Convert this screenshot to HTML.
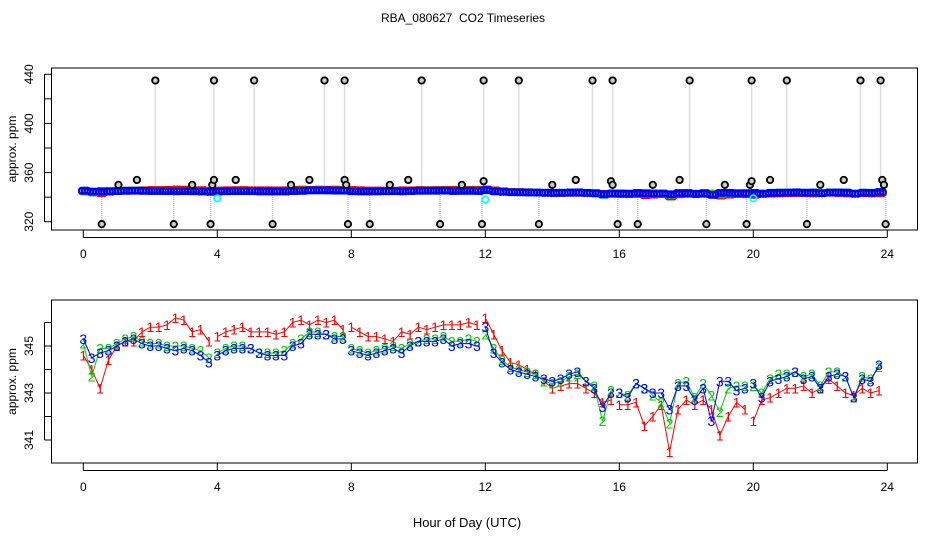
<!DOCTYPE html>
<html><head><meta charset="utf-8"><style>
body{margin:0;background:#fff}
svg{display:block;font-family:"Liberation Sans",sans-serif}
</style></head><body>
<svg id="chart" width="936" height="540" viewBox="0 0 936 540" xmlns="http://www.w3.org/2000/svg">
<rect width="936" height="540" fill="#fff"/>
<text x="463" y="22" font-size="12" text-anchor="middle" style="white-space:pre">RBA_080627  CO2 Timeseries</text>
<g id="topPanel"></g>
<g id="botPanel"></g>
<text x="467" y="527" font-size="13" text-anchor="middle">Hour of Day (UTC)</text>
</svg>
<script>
// ---- data ----
const hours = [0,0.25,0.5,0.75,1,1.25,1.5,1.75,2,2.25,2.5,2.75,3,3.25,3.5,3.75,4,4.25,4.5,4.75,5,5.25,5.5,5.75,6,6.25,6.5,6.75,7,7.25,7.5,7.75,8,8.25,8.5,8.75,9,9.25,9.5,9.75,10,10.25,10.5,10.75,11,11.25,11.5,11.75,12,12.25,12.5,12.75,13,13.25,13.5,13.75,14,14.25,14.5,14.75,15,15.25,15.5,15.75,16,16.25,16.5,16.75,17,17.25,17.5,17.75,18,18.25,18.5,18.75,19,19.25,19.5,19.75,20,20.25,20.5,20.75,21,21.25,21.5,21.75,22,22.25,22.5,22.75,23,23.25,23.5,23.75];
const series1 = [344.6,344.0,343.2,344.4,345.0,345.2,345.2,345.6,345.8,345.8,345.9,346.2,346.1,345.6,345.7,345.2,345.4,345.6,345.7,345.8,345.6,345.6,345.6,345.5,345.6,346.0,346.1,345.9,346.1,346.0,346.1,345.7,345.8,345.6,345.4,345.4,345.3,345.2,345.6,345.5,345.8,345.7,345.8,345.9,345.9,345.9,346.0,345.9,346.2,345.5,344.8,344.3,344.2,344.0,343.8,343.5,343.2,343.3,343.4,343.4,343.2,343.0,342.6,342.7,342.5,342.5,342.6,341.6,342.0,342.5,340.5,342.3,342.7,342.5,342.7,342.3,341.2,342.0,342.6,342.3,341.8,342.7,342.8,343.0,343.2,343.2,343.3,343.0,343.2,343.6,343.3,343.0,342.9,343.2,343.0,343.1];
const series2 = [345.1,343.7,344.9,344.9,345.1,345.3,345.4,345.2,345.1,345.1,345.0,345.0,345.0,344.9,344.8,344.5,344.7,344.9,345.0,345.0,344.9,344.7,344.7,344.7,344.8,345.1,345.3,345.6,345.6,345.5,345.4,345.4,344.9,344.8,344.7,344.8,344.9,345.0,344.9,345.1,345.2,345.3,345.3,345.4,345.2,345.2,345.3,345.2,345.5,344.9,344.4,344.1,344.0,343.9,343.8,343.5,343.4,343.5,343.7,343.8,343.5,343.3,341.8,343.1,343.0,342.9,343.4,343.2,342.9,342.6,341.7,343.4,343.5,342.8,343.4,342.9,342.2,343.2,343.3,343.3,343.3,343.0,343.6,343.8,343.8,343.9,343.7,343.8,343.3,343.9,343.9,343.7,342.8,343.7,343.6,344.1];
const series3 = [345.3,344.5,344.7,344.8,345.0,345.2,345.3,345.1,345.0,345.0,344.9,344.8,344.9,344.8,344.6,344.3,344.6,344.8,344.9,344.9,344.9,344.7,344.6,344.6,344.6,345.0,345.1,345.5,345.5,345.5,345.3,345.3,344.8,344.7,344.6,344.7,344.8,344.9,344.7,345.0,345.2,345.2,345.2,345.3,345.0,345.1,345.1,345.0,345.8,344.7,344.3,344.0,343.9,343.8,343.7,343.6,343.5,343.6,343.8,343.9,343.5,343.2,342.4,343.0,343.0,342.8,343.4,343.2,343.0,343.0,342.3,343.3,343.3,342.7,343.2,341.8,343.5,343.5,343.1,343.2,343.4,342.8,343.5,343.6,343.7,343.9,343.6,343.7,343.2,343.7,343.8,343.7,342.8,343.6,343.5,344.2];
const gapHours = [3.875,7.875,11.9,15.875,19.875];
const highOutlierHours = [2.15,3.9,5.1,7.2,7.8,10.1,11.95,13.0,15.2,15.8,18.1,19.95,21.0,23.2,23.8];
const lowOutlierHours = [0.55,2.7,3.8,5.65,7.9,8.55,10.65,11.9,13.6,15.95,16.55,18.6,19.8,21.6,23.95];
const highOutlierValue = 435;
const lowOutlierValue = 318;
const nearHours = [1.05,1.6,3.25,3.85,3.9,4.55,6.2,6.75,7.8,7.85,9.15,9.7,11.3,11.95,14.0,14.7,15.75,15.8,17.0,17.8,19.15,19.9,19.95,20.5,22.0,22.7,23.85,23.9];
const nearValues = [350,354,350,350,354,354,350,354,354,350,350,354,350,353,350,354,353,350,350,354,350,350,353,354,350,354,354,350];
const cyanHours = [4.0,12.0,20.0];
const cyanValues = [339,338,339];
const xTicks = [0,4,8,12,16,20,24];
const topYTicks = [320,340,360,380,400,420,440];
const topYLabels = [320,360,400,440];
const botYTicks = [341,342,343,344,345,346];
const botYLabels = [341,343,345];

const NS="http://www.w3.org/2000/svg";
function mk(parent,tag,attrs,name,text){const e=document.createElementNS(NS,tag);for(const k in attrs)e.setAttribute(k,attrs[k]);


if(text!==undefined)e.textContent=text;parent.appendChild(e);return e;}
const X=h=>83.3+h*33.5;
const yTop=v=>221.7-(v-320)*(147.4/120);
const yBot=v=>346-(v-345)*23.5;
function isGap(a,b){return gapHours.some(g=>a<g&&b>g);}

function frame(g,y0,y1,yt,yl,yfn){
  mk(g,'rect',{x:51.5,y:y0,width:866,height:y1-y0,fill:'none',stroke:'#000','stroke-width':1},'plot-box');
  mk(g,'line',{x1:X(0),x2:X(24),y1:y1+7.5,y2:y1+7.5,stroke:'#000'},'x-axis-line');
  xTicks.forEach(t=>{mk(g,'line',{x1:X(t),x2:X(t),y1:y1,y2:y1+7.5,stroke:'#000'},'x-tick');
    mk(g,'text',{x:X(t),y:y1+28,'font-size':12,'text-anchor':'middle'},'x-tick-label',String(t));});
  const ya=yfn(yt[0]),yb=yfn(yt[yt.length-1]);
  mk(g,'line',{x1:44.5,x2:44.5,y1:ya,y2:yb,stroke:'#000'},'y-axis-line');
  yt.forEach(t=>mk(g,'line',{x1:44.5,x2:51.5,y1:yfn(t),y2:yfn(t),stroke:'#000'},'y-tick'));
  yl.forEach(t=>mk(g,'text',{x:0,y:0,'font-size':12,'text-anchor':'middle',transform:`translate(33,${yfn(t)}) rotate(-90)`},'y-tick-label',String(t)));
  mk(g,'text',{x:0,y:0,'font-size':12,'text-anchor':'middle',transform:`translate(16,${(y0+y1)/2}) rotate(-90)`},'y-axis-title','approx. ppm');
}
// top panel
const topG=document.getElementById('topPanel');
frame(topG,68,230,topYTicks,topYLabels,yTop);
highOutlierHours.forEach(h=>mk(topG,'line',{x1:X(h),x2:X(h),y1:yTop(highOutlierValue),y2:yTop(345),stroke:'#bbb','stroke-width':1.5,'stroke-dasharray':'1,1'},'outlier-link'));
lowOutlierHours.forEach(h=>mk(topG,'line',{x1:X(h),x2:X(h),y1:yTop(lowOutlierValue),y2:yTop(345),stroke:'#bbb','stroke-width':1.5,'stroke-dasharray':'1,1'},'outlier-link'));
[[series1,'#f00'],[series2,'#0c0'],[series3,'#00f']].forEach(([s,c])=>{
  hours.forEach((h,i)=>{[-0.08,0,0.08].forEach(d=>mk(topG,'circle',{cx:X(h+d+0.04),cy:yTop(s[i]),r:3,fill:'none',stroke:c,'stroke-width':2},'band-point'));});
});
highOutlierHours.forEach(h=>mk(topG,'circle',{cx:X(h),cy:yTop(highOutlierValue),r:3.2,fill:'#ccc',stroke:'#000','stroke-width':1.8},'high-outlier'));
lowOutlierHours.forEach(h=>mk(topG,'circle',{cx:X(h),cy:yTop(lowOutlierValue),r:3.2,fill:'#ccc',stroke:'#000','stroke-width':1.8},'low-outlier'));
nearHours.forEach((h,i)=>mk(topG,'circle',{cx:X(h),cy:yTop(nearValues[i]),r:3.2,fill:'#ccc',stroke:'#000','stroke-width':1.8},'near-outlier'));
cyanHours.forEach((h,i)=>mk(topG,'circle',{cx:X(h),cy:yTop(cyanValues[i]),r:3.2,fill:'none',stroke:'#0ff','stroke-width':1.8},'cyan-point'));

// bottom panel
const botG=document.getElementById('botPanel');
frame(botG,300,463,botYTicks,botYLabels,yBot);
[[series1,'#f00','1'],[series2,'#0c0','2'],[series3,'#00f','3']].forEach(([s,c,ch])=>{
  for(let i=0;i<hours.length-1;i++){
    if(isGap(hours[i],hours[i+1]))continue;
    mk(botG,'line',{x1:X(hours[i]),y1:yBot(s[i]),x2:X(hours[i+1]),y2:yBot(s[i+1]),stroke:c,'stroke-width':1},'series-'+ch+'-segment');
  }
  hours.forEach((h,i)=>mk(botG,'text',{x:X(h),y:yBot(s[i])+5,'font-size':14,fill:c,'text-anchor':'middle'},'series-'+ch+'-point',ch));
});
</script>
</body></html>
